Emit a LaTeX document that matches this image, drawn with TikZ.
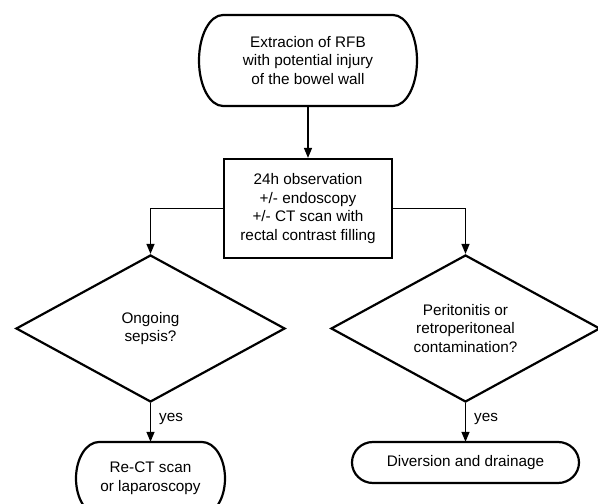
\documentclass[tikz,border=0pt]{standalone}
\usepackage{fontspec}
\setmainfont{Liberation Sans}
\usetikzlibrary{shapes.geometric,arrows.meta,calc}
\tikzset{
  txt/.style={font=\fontsize{15.3}{18.8}\selectfont, align=center, inner sep=0pt},
  shapeline/.style={draw=black, line width=2.2pt},
  box/.style={txt, shapeline, minimum width=168pt, minimum height=99pt},
  dec/.style={txt, shapeline, shape=diamond, aspect=1.83, minimum width=269pt, minimum height=147pt},
  conn/.style={line width=1.4pt, -{Triangle[length=10pt,width=8pt]}},
  lbl/.style={font=\fontsize{15.3}{18.8}\selectfont, inner sep=0pt}
}
% name, cx, cy, w, h, rx, text
\newcommand\stadiumnode[7]{%
  \node[txt, minimum width=#4pt, minimum height=#5pt] (#1) at (#2,#3) {#7};
  \draw[shapeline] (#2-#4/2+#6,#3+#5/2) -- (#2+#4/2-#6,#3+#5/2)
    arc[start angle=90,end angle=-90,x radius=#6,y radius=#5/2]
    -- (#2-#4/2+#6,#3-#5/2)
    arc[start angle=270,end angle=90,x radius=#6,y radius=#5/2] -- cycle;}
\begin{document}
\begin{tikzpicture}[x=1pt,y=1pt]
\useasboundingbox (0,0) rectangle (598,504);
\clip (0,0) rectangle (598,504);
\stadiumnode{start}{308}{443.5}{218}{91}{24}{Extracion of RFB\\with potential injury\\of the bowel wall}
\node[box] (obs) at (308,295.5) {24h observation\\ +/- endoscopy\\+/- CT scan with\\rectal contrast filling};
\node[dec] (dl) at (150.5,175.5) {Ongoing\\sepsis?};
\node[dec] (dr) at (465.5,175.5) {Peritonitis or\\retroperitoneal\\contamination?};
\stadiumnode{rect}{150.5}{25.5}{149}{73}{23}{Re-CT scan\\or laparoscopy}
\stadiumnode{div}{465.5}{41.5}{227}{41}{21}{Diversion and drainage}
\draw[conn] (start.south) -- (obs.north);
\draw[conn] (obs.west) -| (dl.north);
\draw[conn] (obs.east) -| (dr.north);
\draw[conn] (dl.south) -- node[lbl, right=8pt, pos=0.4]{yes} (rect.north);
\draw[conn] (dr.south) -- node[lbl, right=8pt, pos=0.4]{yes} (div.north);
\end{tikzpicture}
\end{document}
